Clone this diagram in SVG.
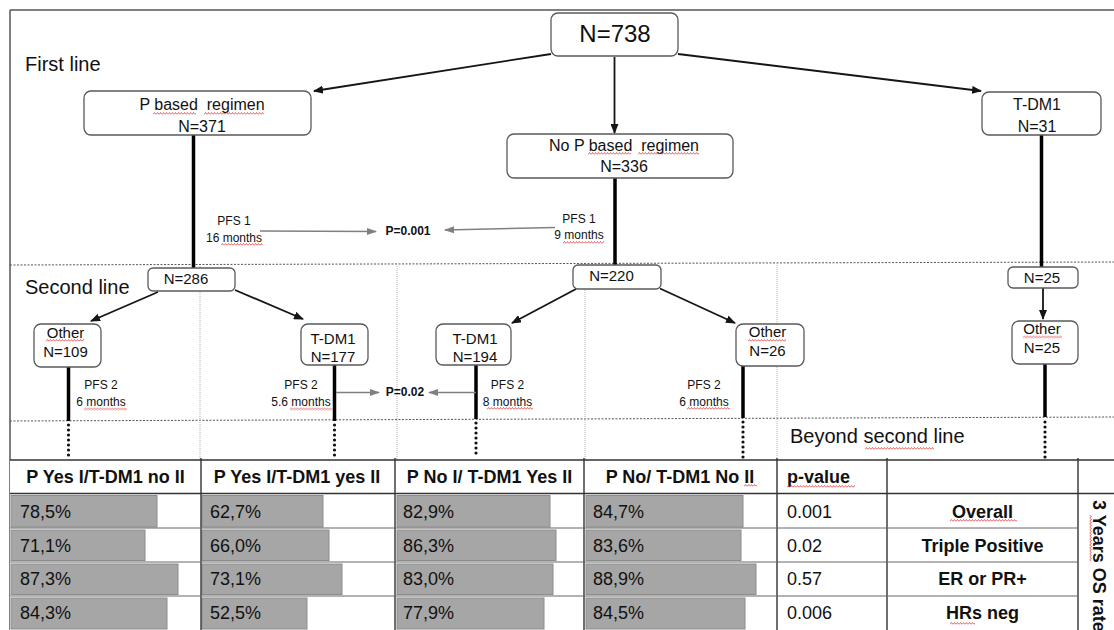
<svg xmlns="http://www.w3.org/2000/svg" width="1114" height="630" viewBox="0 0 1114 630">
<defs>
<style>
.bg{fill:#fff}
.box{fill:#fff;stroke:#595959;stroke-width:1.3}
.t{font-family:"Liberation Sans",Arial,sans-serif;fill:#111}
.c{text-anchor:middle}
.b{font-weight:bold}
.f16{font-size:16px}.f15{font-size:15px}.f12{font-size:12px}.f20{font-size:20px}.f18{font-size:18px}
.thick{stroke:#000;stroke-width:3.5;fill:none}
.arr{stroke:#151515;stroke-width:1.8;fill:none;marker-end:url(#ah)}
.garr{stroke:#808080;stroke-width:1.6;fill:none;marker-end:url(#gah)}
.dots{stroke:#111;stroke-width:3.2;stroke-linecap:round;stroke-dasharray:0 5;fill:none}
.dash{stroke:#555;stroke-width:1;stroke-dasharray:2 1.5;fill:none}
.vgrid{stroke:#b0b0b0;stroke-width:1;stroke-dasharray:1 1;fill:none}
.frame{stroke:#555;stroke-width:1.5;fill:none}
.tl{stroke:#333;stroke-width:1.4;fill:none}
.hl{stroke:#666;stroke-width:1;fill:none}
.bar{fill:#a6a6a6;stroke:#8c8c8c;stroke-width:1}
.sq{fill:url(#wavy)}
</style>
<marker id="ah" markerUnits="userSpaceOnUse" markerWidth="10" markerHeight="8" refX="9" refY="4" orient="auto"><path d="M0,0 L10,4 L0,8 z" fill="#151515"/></marker>
<marker id="gah" markerUnits="userSpaceOnUse" markerWidth="10" markerHeight="8" refX="9" refY="4" orient="auto"><path d="M0,0.5 L10,4 L0,7.5 z" fill="#808080"/></marker>
<pattern id="wavy" patternUnits="userSpaceOnUse" width="3" height="3"><path d="M0,2.5 L1.5,0.5 L3,2.5" fill="none" stroke="#e04040" stroke-width="0.8"/></pattern>
</defs>
<rect class="bg" x="0" y="0" width="1114" height="630"/>

<g id="frame">
<path class="frame" d="M10,10 H1114 M10,10 V630"/>
<path class="dash" d="M10,265 L1114,262 M10,421 L1114,417"/>
<path class="vgrid" d="M200,266 V460 M397,266 V460 M585,266 V460 M777,265 V460"/>
</g>

<g id="labels">
<text class="t f20" x="25" y="71">First line</text>
<text class="t f20" x="25" y="294">Second line</text>
<text class="t f20" x="790" y="443">Beyond second line</text>
<rect class="sq" transform="translate(865,447)" width="69" height="3"/>
</g>

<g id="connectors">
<line class="arr" x1="551" y1="54" x2="314" y2="91"/>
<line class="arr" x1="614.5" y1="57" x2="614.5" y2="133"/>
<line class="arr" x1="678" y1="54" x2="981" y2="91"/>
<line class="thick" x1="193.5" y1="135" x2="193.5" y2="268"/>
<line class="thick" x1="615" y1="178" x2="615" y2="265"/>
<line class="thick" x1="1041.5" y1="135" x2="1041.5" y2="267"/>
<line class="arr" x1="158" y1="292" x2="91" y2="321"/>
<line class="arr" x1="235" y1="290" x2="303" y2="319"/>
<line class="arr" x1="576" y1="289" x2="512" y2="323"/>
<line class="arr" x1="660" y1="288.5" x2="735" y2="323"/>
<line class="arr" x1="1043" y1="288" x2="1043" y2="319"/>
<line class="thick" x1="68.5" y1="367" x2="68.5" y2="421"/>
<line class="thick" x1="334.5" y1="365" x2="334.5" y2="421"/>
<line class="thick" x1="476" y1="365" x2="476" y2="419"/>
<line class="thick" x1="743" y1="366" x2="743" y2="418"/>
<line class="thick" x1="1045" y1="364" x2="1045" y2="417"/>
<path class="dots" d="M68.5,425 V458 M334.5,425 V458 M476,423 V458 M743,422 V458 M1045,422 V458"/>
<line class="garr" x1="260" y1="231" x2="376" y2="231.5"/>
<line class="garr" x1="555" y1="227.5" x2="445" y2="230"/>
<line class="garr" x1="336" y1="392.5" x2="379" y2="392.5"/>
<line class="garr" x1="476" y1="392.5" x2="429" y2="392.5"/>
</g>

<g id="n738">
<rect class="box" x="551" y="13" width="127" height="43" rx="7"/>
<text class="t c" style="font-size:24px" x="615" y="42">N=738</text>
</g>
<g id="p-based">
<rect class="box" x="84" y="91" width="227" height="44" rx="7"/>
<text class="t c f16" x="202" y="110" xml:space="preserve">P based  regimen</text>
<text class="t c f16" x="202" y="131.5">N=371</text>
<rect class="sq" transform="translate(153,112)" width="43" height="3"/>
<rect class="sq" transform="translate(204,112)" width="60" height="3"/>
</g>
<g id="no-p-based">
<rect class="box" x="507" y="134" width="226" height="44" rx="7"/>
<text class="t c f16" x="624" y="151" xml:space="preserve">No P based  regimen</text>
<text class="t c f16" x="624" y="172">N=336</text>
<rect class="sq" transform="translate(588,152)" width="43" height="3"/>
<rect class="sq" transform="translate(638,152)" width="61" height="3"/>
</g>
<g id="tdm1-first">
<rect class="box" x="982" y="92" width="119" height="43" rx="7"/>
<text class="t c f16" x="1037" y="110">T-DM1</text>
<text class="t c f16" x="1037" y="131.5">N=31</text>
</g>

<g id="pfs1">
<text class="t c f12" x="234" y="225">PFS 1</text>
<text class="t c f12" x="234" y="241.5">16 months</text>
<rect class="sq" transform="translate(221,243)" width="42" height="3"/>
<text class="t c f12 b" x="408" y="234.5">P=0.001</text>
<text class="t c f12" x="579" y="223">PFS 1</text>
<text class="t c f12" x="579" y="239">9 months</text>
<rect class="sq" transform="translate(563,241)" width="41" height="3"/>
</g>

<g id="n286">
<rect class="box" x="148" y="268" width="87" height="23" rx="5"/>
<text class="t c f15" x="186" y="283.5">N=286</text>
</g>
<g id="n220">
<rect class="box" x="573" y="265" width="88" height="24" rx="5"/>
<text class="t c f15" x="611.5" y="281">N=220</text>
</g>
<g id="n25">
<rect class="box" x="1008" y="267" width="70" height="21" rx="5"/>
<text class="t c f15" x="1042" y="282.5">N=25</text>
</g>

<g id="other109">
<rect class="box" x="34" y="324" width="67" height="43" rx="7"/>
<text class="t c f15" x="65.5" y="338">Other</text>
<text class="t c f15" x="65.5" y="357">N=109</text>
<rect class="sq" transform="translate(46,339)" width="38" height="3"/>
</g>
<g id="tdm1-177">
<rect class="box" x="301" y="324" width="67" height="41" rx="7"/>
<text class="t c f15" x="333" y="343.5">T-DM1</text>
<text class="t c f15" x="333" y="361.5">N=177</text>
</g>
<g id="tdm1-194">
<rect class="box" x="436" y="324" width="75" height="41" rx="7"/>
<text class="t c f15" x="475" y="343.5">T-DM1</text>
<text class="t c f15" x="475" y="361.5">N=194</text>
</g>
<g id="other26">
<rect class="box" x="736" y="324" width="68" height="42" rx="7"/>
<text class="t c f15" x="767.5" y="337">Other</text>
<text class="t c f15" x="767.5" y="355.5">N=26</text>
<rect class="sq" transform="translate(748,339)" width="38" height="3"/>
</g>
<g id="other25">
<rect class="box" x="1012" y="321" width="66" height="43" rx="7"/>
<text class="t c f15" x="1042" y="333.5">Other</text>
<text class="t c f15" x="1042" y="353">N=25</text>
<rect class="sq" transform="translate(1023,335.5)" width="39" height="3"/>
</g>

<g id="pfs2">
<text class="t c f12" x="101" y="388.5">PFS 2</text>
<text class="t c f12" x="101" y="405.5">6 months</text>
<rect class="sq" transform="translate(84,407.5)" width="43" height="3"/>
<text class="t c f12" x="301" y="388.5">PFS 2</text>
<text class="t c f12" x="301" y="405.5">5.6 months</text>
<rect class="sq" transform="translate(290,407.5)" width="42" height="3"/>
<text class="t c f12 b" x="405" y="396">P=0.02</text>
<text class="t c f12" x="507.5" y="389">PFS 2</text>
<text class="t c f12" x="507.5" y="406">8 months</text>
<rect class="sq" transform="translate(487,407)" width="46" height="3"/>
<text class="t c f12" x="704" y="389">PFS 2</text>
<text class="t c f12" x="704" y="406">6 months</text>
<rect class="sq" transform="translate(687,407)" width="43" height="3"/>
</g>

<g id="table">
<rect x="10" y="460" width="1104" height="170" fill="#fff"/>
<g id="bars">
<rect class="bar" x="11" y="495.5" width="146" height="31.5"/>
<rect class="bar" x="11" y="530" width="134" height="30.5"/>
<rect class="bar" x="11" y="564" width="167" height="30.5"/>
<rect class="bar" x="11" y="598" width="156" height="31"/>
<rect class="bar" x="202" y="495.5" width="121" height="31.5"/>
<rect class="bar" x="202" y="530" width="127" height="30.5"/>
<rect class="bar" x="202" y="564" width="140" height="30.5"/>
<rect class="bar" x="202" y="598" width="105" height="31"/>
<rect class="bar" x="397" y="495.5" width="153" height="31.5"/>
<rect class="bar" x="397" y="530" width="159" height="30.5"/>
<rect class="bar" x="397" y="564" width="156" height="30.5"/>
<rect class="bar" x="397" y="598" width="147" height="31"/>
<rect class="bar" x="586" y="495.5" width="157" height="31.5"/>
<rect class="bar" x="586" y="530" width="155" height="30.5"/>
<rect class="bar" x="586" y="564" width="170" height="30.5"/>
<rect class="bar" x="586" y="598" width="159" height="31"/>
</g>
<path class="tl" d="M10,460 H1114 M10,493.5 H1114 M201,458 V630 M395,458 V630 M584,458 V630 M777,458 V630 M887,458 V630 M1078,458 V630"/>
<path class="hl" d="M10,528 H1078 M10,562 H1078 M10,596 H1078"/>
<g id="header">
<text class="t c f18 b" x="105.5" y="483">P Yes I/T-DM1 no II</text>
<text class="t c f18 b" x="297" y="483">P Yes I/T-DM1 yes II</text>
<text class="t c f18 b" x="489.5" y="483">P No I/ T-DM1 Yes II</text>
<text class="t c f18 b" x="680" y="483">P No/ T-DM1 No II</text>
<text class="t f18 b" x="787" y="483">p-value</text>
<rect class="sq" transform="translate(744,484)" width="13" height="3"/>
<rect class="sq" transform="translate(787,485)" width="68" height="3"/>
</g>
<g id="values">
<text class="t f18" x="20" y="518">78,5%</text>
<text class="t f18" x="20" y="552">71,1%</text>
<text class="t f18" x="20" y="585">87,3%</text>
<text class="t f18" x="20" y="618.5">84,3%</text>
<text class="t f18" x="210" y="518">62,7%</text>
<text class="t f18" x="210" y="552">66,0%</text>
<text class="t f18" x="210" y="585">73,1%</text>
<text class="t f18" x="210" y="618.5">52,5%</text>
<text class="t f18" x="403" y="518">82,9%</text>
<text class="t f18" x="403" y="552">86,3%</text>
<text class="t f18" x="403" y="585">83,0%</text>
<text class="t f18" x="403" y="618.5">77,9%</text>
<text class="t f18" x="593" y="518">84,7%</text>
<text class="t f18" x="593" y="552">83,6%</text>
<text class="t f18" x="593" y="585">88,9%</text>
<text class="t f18" x="593" y="618.5">84,5%</text>
<text class="t f18" x="787" y="518">0.001</text>
<text class="t f18" x="787" y="552">0.02</text>
<text class="t f18" x="787" y="585">0.57</text>
<text class="t f18" x="787" y="618.5">0.006</text>
<text class="t c f18 b" x="982.5" y="518">Overall</text>
<text class="t c f18 b" x="982.5" y="552">Triple Positive</text>
<text class="t c f18 b" x="982.5" y="585">ER or PR+</text>
<text class="t c f18 b" x="982.5" y="618.5">HRs neg</text>
<rect class="sq" transform="translate(950,519)" width="67" height="3"/>
<rect class="sq" transform="translate(950,622)" width="25" height="3"/>
</g>
<g id="os-label" transform="translate(1093,500) rotate(90)">
<text class="t f18 b" x="0" y="0">3 Years OS rate</text>
<rect class="sq" x="0" y="0" transform="translate(15,1)" width="46" height="3"/>
</g>
</g>
</svg>
